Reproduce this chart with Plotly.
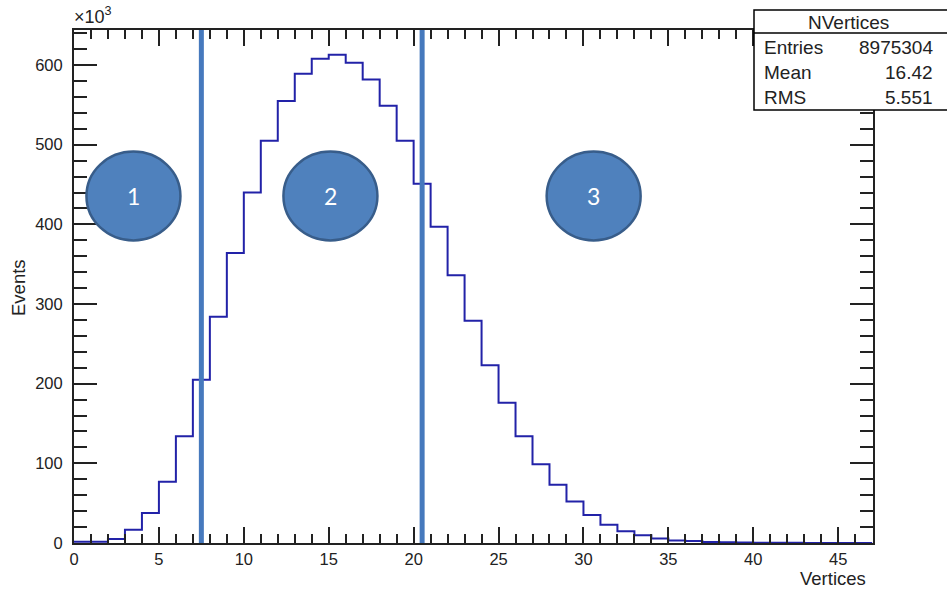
import plotly.graph_objects as go

# NVertices histogram: unit-width bins from 0 to 47, counts in thousands of events
bin_edges = list(range(0, 48))
counts_k = [1.5, 1.5, 5, 16.7, 37.6, 77, 134, 205, 284, 364,
            440, 505, 555, 589, 608, 613, 603, 582, 549, 505,
            451, 397, 336, 279, 223, 176, 134, 99, 73, 52,
            35, 23, 14.6, 9.7, 5.6, 3.0, 2.6, 1.4, 0.9, 0.6,
            0.4, 0.3, 0.2, 0.1, 0.1, 0.05, 0.05]

# Region boundaries and labels
cut_positions = [7.5, 20.5]
region_labels = ["1", "2", "3"]
region_centers = [3.5, 15.1, 30.6]

# Stats box
stats_title = "NVertices"
stats_names = ["Entries", "Mean", "RMS"]
stats_values = ["8975304", "16.42", "5.551"]

x_ticks = [0, 5, 10, 15, 20, 25, 30, 35, 40, 45]
y_ticks = [0, 100, 200, 300, 400, 500, 600]

W, H = 947, 591
L, R, T, B = 74, 74, 30, 48
PW, PH = W - L - R, H - T - B
XMAX, YMAX = 47.05, 644


def px(xp):
    return (xp - L) / PW


def py(yp):
    return (H - B - yp) / PH


FONT = "Liberation Sans"
TXT = "#222222"
HIST = "#2222a8"
CUT = "#4679BD"
FILL = "#4F81BD"
EDGE = "#385D8A"

fig = go.Figure()

# step outline: add closing point at the last bin edge
xs = bin_edges
ys = counts_k + [counts_k[-1]]
fig.add_trace(go.Scatter(x=xs, y=ys, mode="lines", line=dict(color=HIST, width=2, shape="hv"),
                         hoverinfo="skip", showlegend=False))

shapes = []
for c in cut_positions:
    shapes.append(dict(type="line", xref="x", yref="paper", x0=c, x1=c, y0=0, y1=1,
                       line=dict(color=CUT, width=5), layer="above"))

annotations = []
rx_px, ry_px = 47, 44.5
cy_px = 196
for lab, cx in zip(region_labels, region_centers):
    shapes.append(dict(type="circle", xref="x", yref="paper",
                       x0=cx - rx_px / PW * XMAX, x1=cx + rx_px / PW * XMAX,
                       y0=py(cy_px + ry_px), y1=py(cy_px - ry_px),
                       fillcolor=FILL, line=dict(color=EDGE, width=2.5), layer="above"))
    annotations.append(dict(x=cx, y=py(cy_px), xref="x", yref="paper", text=lab, showarrow=False,
                            font=dict(family="Lato", size=23, color="white"),
                            xanchor="center", yanchor="middle"))

# stats box
bx0, bx1, by0, by1, bsep = 754, 948, 10, 110, 33
shapes.append(dict(type="rect", xref="paper", yref="paper", x0=px(bx0), x1=px(bx1),
                   y0=py(by1), y1=py(by0), fillcolor="white", line=dict(color="black", width=1.5),
                   layer="above"))
shapes.append(dict(type="line", xref="paper", yref="paper", x0=px(bx0), x1=px(bx1),
                   y0=py(bsep), y1=py(bsep), line=dict(color="black", width=1.5), layer="above"))
annotations.append(dict(x=px(848), y=py(22), xref="paper", yref="paper", text=stats_title,
                        showarrow=False, font=dict(family=FONT, size=19, color=TXT),
                        xanchor="center", yanchor="middle"))
for i, (n, v) in enumerate(zip(stats_names, stats_values)):
    yy = 47 + 25 * i
    annotations.append(dict(x=px(762), y=py(yy), xref="paper", yref="paper", text=n,
                            showarrow=False, font=dict(family=FONT, size=19, color=TXT),
                            xanchor="left", yanchor="middle"))
    annotations.append(dict(x=px(935), y=py(yy), xref="paper", yref="paper", text=v,
                            showarrow=False, font=dict(family=FONT, size=19, color=TXT),
                            xanchor="right", yanchor="middle"))

# axis titles and exponent
annotations.append(dict(x=px(868), y=py(578), xref="paper", yref="paper", text="Vertices",
                        showarrow=False, font=dict(family=FONT, size=18.5, color=TXT),
                        xanchor="right", yanchor="middle"))
annotations.append(dict(x=px(18), y=py(288), xref="paper", yref="paper", text="Events",
                        showarrow=False, textangle=-90, font=dict(family=FONT, size=18.5, color=TXT),
                        xanchor="center", yanchor="middle"))
annotations.append(dict(x=px(72), y=py(16), xref="paper", yref="paper", text="×10<sup>3</sup>",
                        showarrow=False, font=dict(family=FONT, size=18, color=TXT),
                        xanchor="left", yanchor="middle"))

fig.update_layout(
    width=W, height=H, margin=dict(l=L, r=R, t=T, b=B),
    paper_bgcolor="white", plot_bgcolor="white",
    shapes=shapes, annotations=annotations, showlegend=False,
    xaxis=dict(range=[0, XMAX], tickvals=x_ticks, ticks="inside", ticklen=16, tickwidth=1.5,
               tickcolor="#222", showline=True, linecolor="#222", linewidth=2, mirror="allticks",
               showgrid=False, zeroline=False,
               tickfont=dict(family=FONT, size=16.5, color=TXT),
               minor=dict(dtick=1, tick0=0, ticks="inside", ticklen=9, tickwidth=1.5, tickcolor="#222",
                          showgrid=False)),
    yaxis=dict(range=[0, YMAX], tickvals=y_ticks, ticks="inside", ticklen=23, tickwidth=1.5,
               tickcolor="#222", showline=True, linecolor="#222", linewidth=2, mirror="allticks",
               showgrid=False, zeroline=False,
               tickfont=dict(family=FONT, size=16.5, color=TXT), ticklabelstandoff=6,
               minor=dict(dtick=20, tick0=0, ticks="inside", ticklen=13, tickwidth=1.5, tickcolor="#222",
                          showgrid=False)),
)

fig.write_html("out.html")
